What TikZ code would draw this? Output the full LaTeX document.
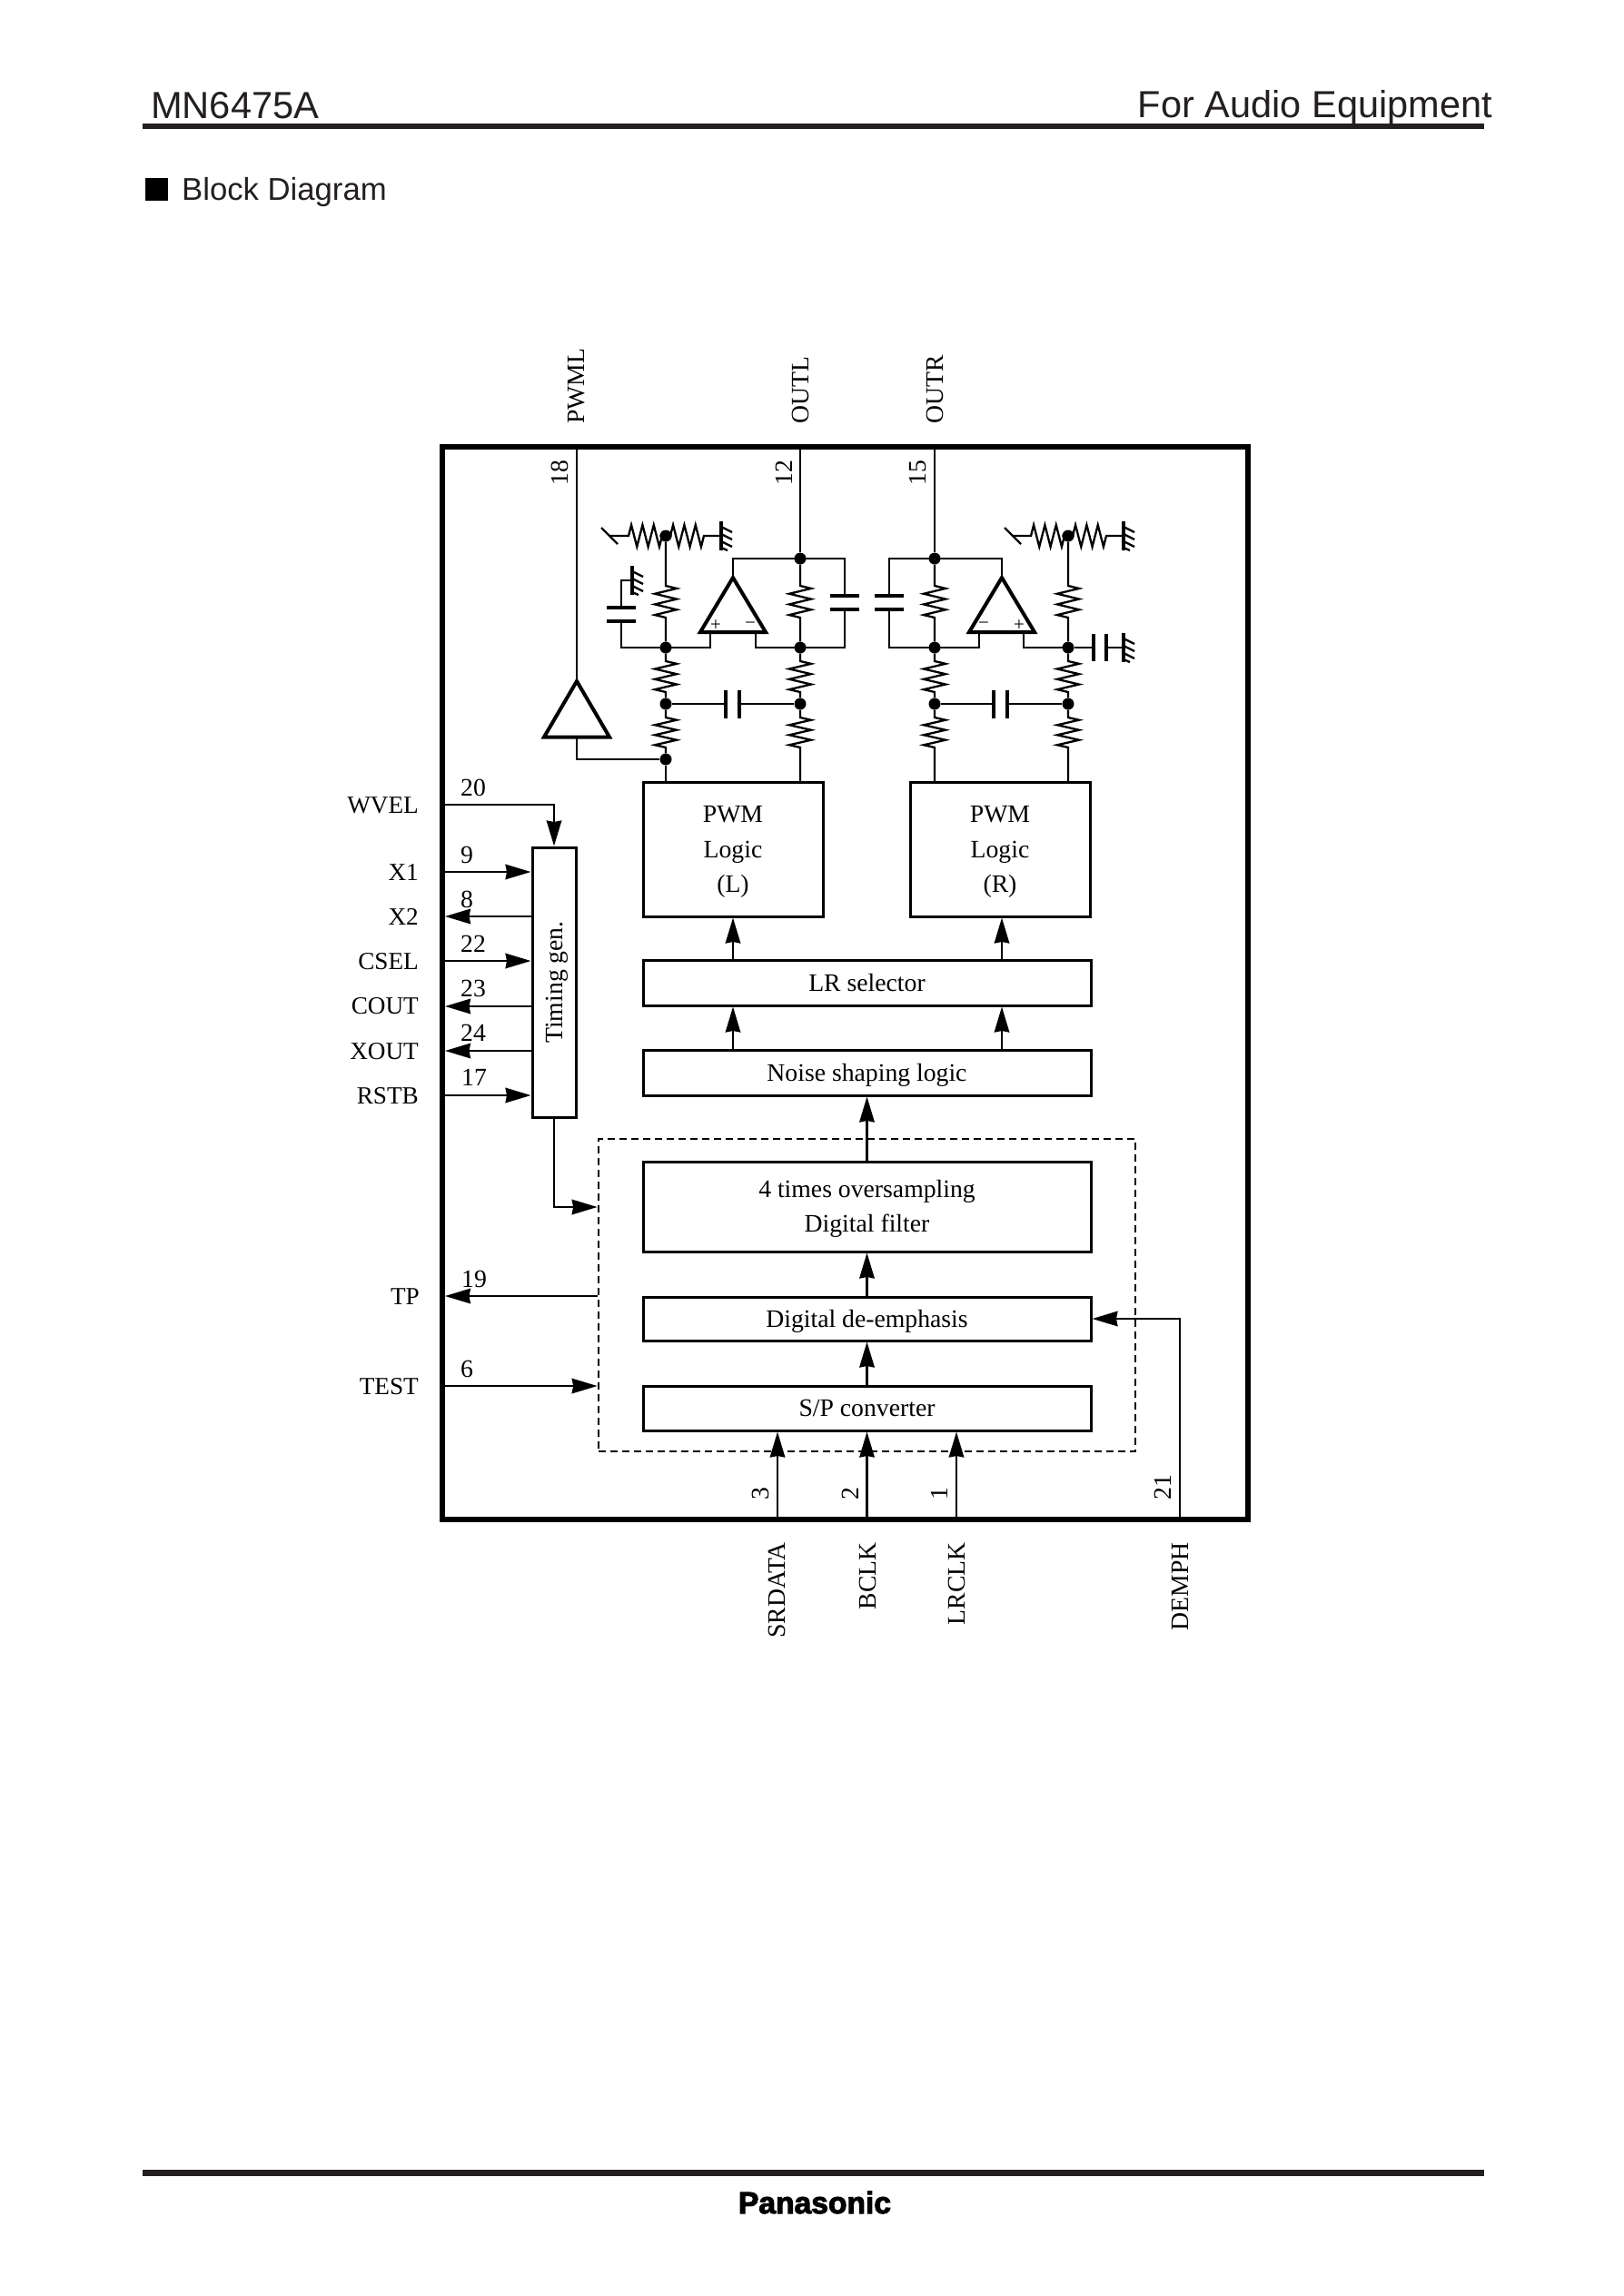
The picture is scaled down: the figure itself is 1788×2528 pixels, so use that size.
\documentclass[tikz,border=0pt]{standalone}
\usepackage{fontspec}
\usetikzlibrary{calc,arrows.meta}
\setmainfont{Liberation Serif}
\newfontfamily\hdrfont{Liberation Sans}
\newfontfamily\panafont[BoldFeatures={FakeBold=3}]{Liberation Sans}
\definecolor{hdr}{HTML}{231F20}
\tikzset{
  wire/.style={line width=2.3pt,line cap=butt},
  arr/.style={wire,-{Stealth[length=28pt,width=16.5pt,inset=1.5pt]}},
  blk/.style={draw,line width=3pt,font=\fontsize{27.7}{30}\selectfont,text height=18.5pt,text depth=0pt,inner sep=0pt},
  blkm/.style={draw,line width=3pt,font=\fontsize{27.7}{38.3}\selectfont,align=center,inner sep=0pt},
  lbl/.style={font=\fontsize{27.7}{30}\selectfont,inner sep=0pt},
  lblL/.style={lbl,font=\fontsize{27.2}{30}\selectfont,anchor=base east},
  numL/.style={lbl,anchor=base west},
  upS/.style={lbl,rotate=90,anchor=base west},
  upE/.style={lbl,rotate=90,anchor=base east},
  dotn/.style={circle,fill,inner sep=0pt,minimum size=13pt},
  plate/.style={line width=3.3pt},
  amp/.style={line width=4pt,line join=miter},
  sign/.style={font=\fontsize{21}{22}\selectfont,inner sep=0pt},
}
% zigzag resistor between two nodes: from, to, zigzag start, zigzag end
\newcommand{\zzres}[4]{%
  \coordinate (zs) at #3; \coordinate (ze) at #4;
  \draw[wire,line join=miter] (#1) -- (zs)
    -- ($(zs)!.0833!(ze)!12pt!90:(ze)$)
    -- ($(zs)!.25!(ze)!12pt!-90:(ze)$)
    -- ($(zs)!.4167!(ze)!12pt!90:(ze)$)
    -- ($(zs)!.5833!(ze)!12pt!-90:(ze)$)
    -- ($(zs)!.75!(ze)!12pt!90:(ze)$)
    -- ($(zs)!.9167!(ze)!12pt!-90:(ze)$)
    -- (ze) -- (#2);
}
% ground symbol: bar at x,y with hatches to the right
\newcommand{\gnd}[2]{%
  \draw[plate] (#1,#2-16) -- (#1,#2+16);
  \draw[wire] (#1,#2-10) -- ++(12,6) (#1,#2-2) -- ++(12,6) (#1,#2+6) -- ++(12,6) (#1,#2+13) -- ++(7,3);
}
\begin{document}
\begin{tikzpicture}[x=1pt,y=-1pt]
\useasboundingbox (0,0) rectangle (1788,2528);
\fill[white] (0,0) rectangle (1788,2528);

% page header and footer
\draw[hdr,line width=6pt] (157,139) -- (1634,139);
\draw[hdr,line width=7pt] (157,2392) -- (1634,2392);
\node[anchor=base west,inner sep=0pt,text=hdr,font=\hdrfont\fontsize{41.6}{46}\selectfont] (title) at (166,130) {MN6475A};
\node[anchor=base east,inner sep=0pt,text=hdr,font=\hdrfont\fontsize{41.5}{46}\selectfont] (cat) at (1643,129) {For Audio Equipment};
\fill (160,196) rectangle (185,221);
\node[anchor=base west,inner sep=0pt,text=hdr,font=\hdrfont\fontsize{34.7}{40}\selectfont] (sect) at (200,220) {Block Diagram};
\node[anchor=base,inner sep=0pt,font=\panafont\bfseries\fontsize{33.6}{38}\selectfont] (brand) at (897,2437) {Panasonic};

% chip frame
\node[draw,line width=6pt,minimum width=887pt,minimum height=1181pt,inner sep=0pt] (chip) at (930.5,1082.5) {};

% dashed DSP region
\node[draw,line width=2.7pt,dash pattern=on 8pt off 5pt,minimum width=591pt,minimum height=344pt,inner sep=0pt] (dsp) at (954.5,1426) {};

% blocks
\node[blkm,minimum width=198pt,minimum height=148pt] (pwmL) at (807,935) {\rule{0pt}{24pt}PWM\\Logic\\(L)};
\node[blkm,minimum width=198pt,minimum height=148pt] (pwmR) at (1101,935) {\rule{0pt}{24pt}PWM\\Logic\\(R)};
\node[blk,minimum width=493pt,minimum height=50pt] (lr) at (954.5,1082) {LR selector};
\node[blk,minimum width=493pt,minimum height=50pt] (noise) at (954.5,1181) {Noise shaping logic};
\node[blkm,minimum width=493pt,minimum height=99pt] (filter) at (954.5,1328.5) {\rule{0pt}{24pt}4 times oversampling\\Digital filter};
\node[blk,minimum width=493pt,minimum height=48pt] (de) at (954.5,1452) {Digital de-emphasis};
\node[blk,minimum width=493pt,minimum height=49pt] (sp) at (954.5,1550.5) {S/P converter};
\node[blk,rotate=90,minimum width=297pt,minimum height=48pt,text height=19pt] (timing) at (610,1081.5) {Timing gen.\hspace{12pt}};

% named pin and column points
\coordinate (aL) at (807,0);
\coordinate (aR) at (1103,0);
\coordinate (pW) at (490,886);
\coordinate (pX1) at (490,960);
\coordinate (pX2) at (490,1009);
\coordinate (pCS) at (490,1058);
\coordinate (pCO) at (490,1108);
\coordinate (pXO) at (490,1157);
\coordinate (pRS) at (490,1206);
\coordinate (pTP) at (490,1427);
\coordinate (pTE) at (490,1526);
\coordinate (pClk) at (659,1329);
\coordinate (pSR) at (856,1670);
\coordinate (pBC) at (954.5,1670);
\coordinate (pLR) at (1053,1670);
\coordinate (pDE) at (1299,1670);
\coordinate (pPW) at (635,495);
\coordinate (pOL) at (881,495);
\coordinate (pOR) at (1029,495);

% control connectors
\draw[arr] (pW) -| (timing.east);
\draw[arr] (pX1) -- (pX1 -| timing.north);
\draw[arr] (pX2 -| timing.north) -- (pX2);
\draw[arr] (pCS) -- (pCS -| timing.north);
\draw[arr] (pCO -| timing.north) -- (pCO);
\draw[arr] (pXO -| timing.north) -- (pXO);
\draw[arr] (pRS) -- (pRS -| timing.north);
\draw[arr] (timing.west) |- (pClk -| dsp.west);
\draw[arr] (pTP -| dsp.west) -- (pTP);
\draw[arr] (pTE) -- (pTE -| dsp.west);

% data path
\draw[arr] (pSR) -- (pSR |- sp.south);
\draw[arr] (pBC) -- (sp.south);
\draw[arr] (pLR) -- (pLR |- sp.south);
\draw[arr] (pDE) |- (de.east);
\draw[arr] (sp.north) -- (de.south);
\draw[arr] (de.north) -- (filter.south);
\draw[arr] (filter.north) -- (noise.south);
\draw[arr] (noise.north -| aL) -- (lr.south -| aL);
\draw[arr] (noise.north -| aR) -- (lr.south -| aR);
\draw[arr] (lr.north -| aL) -- (pwmL.south -| aL);
\draw[arr] (lr.north -| aR) -- (pwmR.south -| aR);

% analog dots
\node[dotn] (A0) at (733,590) {};
\node[dotn] (A1) at (733,713) {};
\node[dotn] (A2) at (733,775) {};
\node[dotn] (A3) at (733,836) {};
\node[dotn] (B0) at (881,615) {};
\node[dotn] (B1) at (881,713) {};
\node[dotn] (B2) at (881,775) {};
\node[dotn] (C0) at (1029,615) {};
\node[dotn] (C1) at (1029,713) {};
\node[dotn] (C2) at (1029,775) {};
\node[dotn] (D0) at (1176,590) {};
\node[dotn] (D1) at (1176,713) {};
\node[dotn] (D2) at (1176,775) {};

% output wires
\draw[wire] (pOL) -- (B0);
\draw[wire] (pOR) -- (C0);
\draw[wire] (A3) -- (A3 |- pwmL.north);
\draw[wire] (B0.center) -- (807,615) -- (807,640);
\draw[wire] (C0.center) -- (1103,615) -- (1103,640);

% resistors, vertical
\zzres{A0}{A1}{(733,645)}{(733,680)}
\zzres{A1}{A2}{(733,728)}{(733,762)}
\zzres{A2}{A3}{(733,790)}{(733,823)}
\zzres{B0}{B1}{(881,645)}{(881,680)}
\zzres{B1}{B2}{(881,728)}{(881,762)}
\coordinate (bB) at (881,861);
\zzres{B2}{bB}{(881,790)}{(881,823)}
\zzres{C0}{C1}{(1029,645)}{(1029,680)}
\zzres{C1}{C2}{(1029,728)}{(1029,762)}
\coordinate (bC) at (1029,861);
\zzres{C2}{bC}{(1029,790)}{(1029,823)}
\zzres{D0}{D1}{(1176,645)}{(1176,680)}
\zzres{D1}{D2}{(1176,728)}{(1176,762)}
\coordinate (bD) at (1176,861);
\zzres{D2}{bD}{(1176,790)}{(1176,823)}

% resistors, horizontal, with switch stubs and grounds
\coordinate (swL) at (671,590);
\coordinate (gnL) at (794,590);
\coordinate (swR) at (1115,590);
\coordinate (gnR) at (1237,590);
\zzres{swL}{A0}{(692,590)}{(729,590)}
\zzres{A0}{gnL}{(738,590)}{(775,590)}
\zzres{swR}{D0}{(1135,590)}{(1172,590)}
\zzres{D0}{gnR}{(1181,590)}{(1218,590)}
\draw[wire] (662,581) -- (680,599);
\draw[wire] (1106,581) -- (1124,599);
\gnd{794}{590}
\gnd{1237}{590}

% capacitors between the pairs of channels
\draw[wire] (A2) -- (799,775); \draw[wire] (814,775) -- (B2);
\draw[plate] (799,760) -- (799,791); \draw[plate] (814,760) -- (814,791);
\draw[wire] (C2) -- (1094,775); \draw[wire] (1109,775) -- (D2);
\draw[plate] (1094,760) -- (1094,791); \draw[plate] (1109,760) -- (1109,791);

% filter cap left, to ground
\draw[wire] (A1.center) -- (684,713) -- (684,684);
\draw[plate] (668,684) -- (700,684); \draw[plate] (668,669) -- (700,669);
\draw[wire] (684,669) -- (684,639) -- (696,639);
\gnd{696}{639}

% feedback caps
\draw[wire] (B0.center) -- (930,615) -- (930,656);
\draw[plate] (914,656) -- (946,656); \draw[plate] (914,671) -- (946,671);
\draw[wire] (930,671) -- (930,713) -- (B1.center);
\draw[wire] (C0.center) -- (979,615) -- (979,656);
\draw[plate] (963,656) -- (995,656); \draw[plate] (963,671) -- (995,671);
\draw[wire] (979,671) -- (979,713) -- (C1.center);

% filter cap right, to ground
\draw[wire] (D1) -- (1204,713); \draw[wire] (1218,713) -- (1237,713);
\draw[plate] (1204,698) -- (1204,728); \draw[plate] (1218,698) -- (1218,728);
\gnd{1237}{713}

% op-amps
\draw[wire] (A1.center) -- (782,713) -- (782,696);
\draw[wire] (B1.center) -- (832,713) -- (832,696);
\draw[amp] (807,636) -- (771,696) -- (843,696) -- cycle;
\node[sign] (pL) at (788,689) {+};
\node[sign] (mL) at (826,689) {−};
\draw[wire] (C1.center) -- (1078,713) -- (1078,696);
\draw[wire] (D1.center) -- (1127,713) -- (1127,696);
\draw[amp] (1103,636) -- (1067,696) -- (1139,696) -- cycle;
\node[sign] (mR) at (1083,689) {−};
\node[sign] (pR) at (1122,689) {+};

% PWM output buffer
\draw[wire] (pPW) -- (635,751);
\draw[amp] (635,750) -- (599,811.5) -- (671,811.5) -- cycle;
\draw[wire] (635,811.5) -- (635,836) -- (A3);

% pin labels, left
\node[lblL] (nWV) at (461,895) {WVEL};
\node[lblL] (nX1) at (461,969) {X1};
\node[lblL] (nX2) at (461,1018) {X2};
\node[lblL] (nCS) at (461,1067) {CSEL};
\node[lblL] (nCO) at (461,1116) {COUT};
\node[lblL] (nXO) at (461,1166) {XOUT};
\node[lblL] (nRS) at (461,1215) {RSTB};
\node[lblL] (nTP) at (462,1436) {TP};
\node[lblL] (nTE) at (461,1535) {TEST};

\node[numL] (n20) at (507,876) {20};
\node[numL] (n9) at (507,950) {9};
\node[numL] (n8) at (507,999) {8};
\node[numL] (n22) at (507,1048) {22};
\node[numL] (n23) at (507,1097) {23};
\node[numL] (n24) at (507,1146) {24};
\node[numL] (n17) at (508,1195) {17};
\node[numL] (n19) at (508,1417) {19};
\node[numL] (n6) at (507,1516) {6};

% pin labels, top
\node[upS] (tPW) at (643,467) {PWML};
\node[upS] (tOL) at (890,467) {OUTL};
\node[upS] (tOR) at (1038,467) {OUTR};
\node[upS] (n18) at (625,535) {18};
\node[upS] (n12) at (872,535) {12};
\node[upS] (n15) at (1019,535) {15};

% pin labels, bottom
\node[upS] (n3) at (846,1652) {3};
\node[upS] (n2) at (945,1652) {2};
\node[upS] (n1) at (1043,1652) {1};
\node[upS] (n21) at (1289,1652) {21};
\node[upE] (bSR) at (864,1698) {SRDATA};
\node[upE] (bBC) at (964,1698) {BCLK};
\node[upE] (bLR) at (1062,1698) {LRCLK};
\node[upE] (bDE) at (1308,1698) {DEMPH};
\end{tikzpicture}
\end{document}
